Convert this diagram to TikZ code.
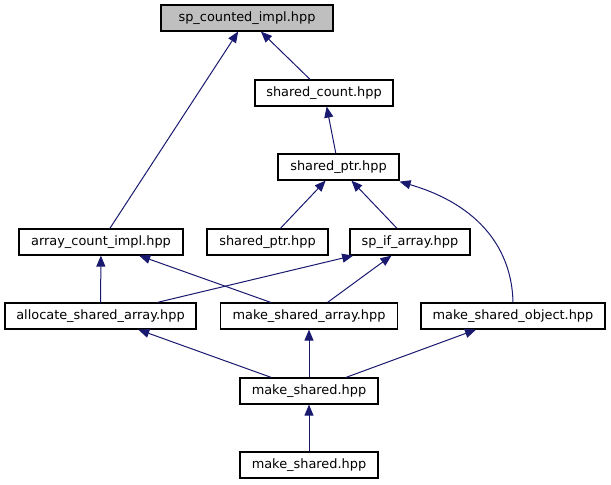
\documentclass[tikz,border=0pt]{standalone}
\usepackage{fontspec}
\setmainfont{DejaVu Sans}
\usetikzlibrary{arrows.meta, positioning, calc}
\definecolor{edgeblue}{RGB}{25,25,112}
\definecolor{topgray}{RGB}{191,191,191}

\begin{document}
\begin{tikzpicture}[x=1pt, y=-1pt,
		file/.style={draw, line width=1.2pt, inner sep=0pt, minimum height=26pt, font=\fontsize{12.9}{15}\selectfont},
		dep/.style={draw=edgeblue, line width=1pt, -{Triangle[length=11pt, width=9pt]}}]
			\useasboundingbox (0,0) rectangle (611,485);
			% top row
			\node(sci) [file, fill=topgray, minimum width=172pt] at (247,18) {sp\_counted\_impl.hpp};
			\node(count) [file, minimum width=138pt] at (324,93) {shared\_count.hpp};
			\node(ptr) [file, minimum width=121pt] at (338.5,167) {shared\_ptr.hpp};
			% middle row
			\node(aci) [file, minimum width=164pt] at (101,242) {array\_count\_impl.hpp};
			\node(ptr2) [file, minimum width=121pt] at (267.5,242) {shared\_ptr.hpp};
			\node(ifarr) [file, minimum width=120pt] at (410,242) {sp\_if\_array.hpp};
			% lower rows
			\node(alloc) [file, minimum width=191pt] at (100.5,316) {allocate\_shared\_array.hpp};
			\node(msarr) [file, minimum width=177pt] at (309,316) {make\_shared\_array.hpp};
			\node(msobj) [file, minimum width=184pt] at (513,316) {make\_shared\_object.hpp};
			\node(ms) [file, minimum width=138pt] at (309,391) {make\_shared.hpp};
			\node(ms2) [file, minimum width=138pt] at (309,465) {make\_shared.hpp};

			\draw[dep] (count) -- (sci);
			\draw[dep] (aci) -- (sci);
			\draw[dep] (ptr) -- (count);
			\draw[dep] (ptr2) -- (ptr);
			\draw[dep] (ifarr) -- (ptr);
			\draw[dep] (msobj.north) .. controls (512,250) and (480,205) .. ($(ptr.south east)+(0,1)$);
			\draw[dep] (alloc) -- (aci);
			\draw[dep] (msarr) -- (aci);
			\draw[dep] (alloc) -- (ifarr);
			\draw[dep] (msarr) -- (ifarr);
			\draw[dep] (ms) -- (alloc);
			\draw[dep] (ms) -- (msarr);
			\draw[dep] (ms) -- (msobj);
			\draw[dep] (ms2) -- (ms);
		\end{tikzpicture}
\end{document}
